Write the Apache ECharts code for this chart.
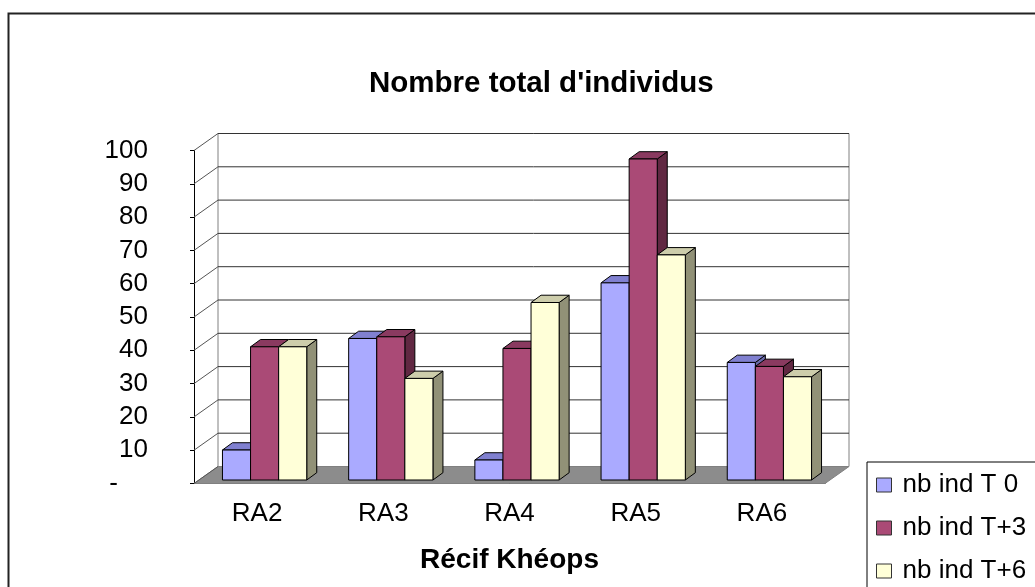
<!DOCTYPE html>
<html lang="fr">
  <head>
    <meta charset="UTF-8" />
    <script src="https://cdn.jsdelivr.net/npm/echarts@6/dist/echarts.min.js"></script>
    <title>Nombre total d'individus</title>
    <style>
      html, body { margin: 0; background: #fff; overflow: hidden; }
      /* a bit larger than the window: the legend box runs off the edges as in the original */
      #container { width: 1070px; height: 630px; }
    </style>
  </head>
  <body>
    <div id="container"></div>
    <script>
      // values
      const categories = ["RA2", "RA3", "RA4", "RA5", "RA6"];
      const seriesNames = ["nb ind T 0", "nb ind T+3", "nb ind T+6"];
      const t0 = [9, 42.5, 6, 59.2, 35.3];
      const t3 = [40, 43, 39.5, 96.4, 34.1];
      const t6 = [40, 30.5, 53.3, 67.6, 31];
      const yTicks = [0, 10, 20, 30, 40, 50, 60, 70, 80, 90, 100];

      // front / top / side face colours per series
      const faces = [
        { front: "#aaaaff", top: "#8080d0", side: "#6a6aa8" },
        { front: "#aa4a76", top: "#8a3a60", side: "#612842" },
        { front: "#ffffd8", top: "#cdcdab", side: "#919177" }
      ];

      const FONT = "Liberation Sans, Arial, sans-serif";
      const WALL = [24, -17];   // depth of the walls
      const OFF = [7.5, -3.5];  // bars sit a bit behind the front edge
      const BD = [10, -7.3];    // depth of each bar

      const W = 1070, H = 630;
      const chart = echarts.init(document.getElementById("container"), null, { renderer: "canvas" });

      function renderWalls(params, api) {
        const cs = params.coordSys;
        const gx = cs.x, gw = cs.width;
        const y0 = api.coord([0, 0])[1];
        const y100 = api.coord([0, 100])[1];
        const kids = [];
        // back wall
        kids.push({
          type: "polygon",
          shape: { points: [[gx + WALL[0], y100 + WALL[1]], [gx + gw + WALL[0], y100 + WALL[1]],
                            [gx + gw + WALL[0], y0 + WALL[1]], [gx + WALL[0], y0 + WALL[1]]] },
          style: { fill: "#fff", stroke: "#808080", lineWidth: 1 }
        });
        // floor
        kids.push({
          type: "polygon",
          shape: { points: [[gx, y0], [gx + gw, y0], [gx + gw + WALL[0], y0 + WALL[1]], [gx + WALL[0], y0 + WALL[1]]] },
          style: { fill: "#8c8c8c", stroke: "#808080", lineWidth: 1 }
        });
        yTicks.forEach(function (v) {
          const y = api.coord([0, v])[1];
          if (v > 0) {
            kids.push({
              type: "line",
              shape: { x1: gx + WALL[0], y1: y + WALL[1], x2: gx + gw + WALL[0], y2: y + WALL[1] },
              style: { stroke: "#333", lineWidth: 1 }
            });
          }
          kids.push({
            type: "line",
            shape: { x1: gx, y1: y, x2: gx + WALL[0], y2: y + WALL[1] },
            style: { stroke: "#555", lineWidth: 1 }
          });
        });
        return { type: "group", children: kids };
      }

      function barRenderer(k) {
        return function (params, api) {
          const i = api.value(0), v = api.value(1);
          const base = api.coord([i, 0]);
          const top = api.coord([i, v]);
          const bw = api.size([1, 0])[0] * 0.2226;
          const x0 = base[0] - 1.5 * bw + k * bw + OFF[0];
          const x1 = x0 + bw;
          const yb = base[1] + OFF[1];
          const yt = top[1] + OFF[1];
          const f = faces[k];
          const edge = { stroke: "#000", lineWidth: 1, lineJoin: "round" };
          return {
            type: "group",
            children: [
              {
                type: "polygon",
                shape: { points: [[x1, yb], [x1 + BD[0], yb + BD[1]], [x1 + BD[0], yt + BD[1]], [x1, yt]] },
                style: Object.assign({ fill: f.side }, edge)
              },
              {
                type: "polygon",
                shape: { points: [[x0, yt], [x1, yt], [x1 + BD[0], yt + BD[1]], [x0 + BD[0], yt + BD[1]]] },
                style: Object.assign({ fill: f.top }, edge)
              },
              {
                type: "rect",
                shape: { x: x0, y: yt, width: bw, height: yb - yt },
                style: Object.assign({ fill: f.front }, edge)
              }
            ]
          };
        };
      }

      const values = [t0, t3, t6];
      const barSeries = values.map(function (arr, k) {
        return {
          name: seriesNames[k],
          type: "custom",
          renderItem: barRenderer(k),
          itemStyle: { color: faces[k].front },
          encode: { x: 0, y: 1 },
          data: arr.map(function (v, i) { return [i, v]; }),
          z: 3 + k,
          silent: true
        };
      });

      const option = {
        animation: false,
        backgroundColor: "#fff",
        textStyle: { fontFamily: FONT },
        title: {
          text: "Nombre total d'individus",
          left: 369,
          top: 69,
          padding: 0,
          textStyle: { fontFamily: FONT, fontSize: 29.5, fontWeight: "bold", color: "#000" }
        },
        legend: {
          orient: "vertical",
          left: 867,
          top: 462,
          padding: [10, 40, 10, 9],
          itemWidth: 15,
          itemHeight: 14,
          itemGap: 17,
          backgroundColor: "#fff",
          borderColor: "#000",
          borderWidth: 1,
          borderRadius: 0,
          textStyle: { fontFamily: FONT, fontSize: 26, color: "#000", padding: [0, 0, 0, 6] },
          data: seriesNames.map(function (n, k) {
            return { name: n, icon: "rect", itemStyle: { color: faces[k].front, borderColor: "#333", borderWidth: 1 } };
          })
        },
        graphic: [
          {
            type: "rect",
            left: 6, top: 11, z: -10,
            shape: { x: 0, y: 0, width: 1200, height: 800 },
            style: { fill: "none", stroke: "#222", lineWidth: 2 }
          }
        ],
        grid: { left: 194, right: W - 825, top: 150.5, bottom: H - 483.5 },
        xAxis: {
          type: "category",
          data: categories,
          boundaryGap: true,
          axisLine: { lineStyle: { color: "#000", width: 1 } },
          axisTick: { length: 5, lineStyle: { color: "#000" } },
          axisLabel: { fontFamily: FONT, fontSize: 26, color: "#000", margin: 17 },
          name: "Récif Khéops",
          nameLocation: "middle",
          nameGap: 63,
          nameTextStyle: { fontFamily: FONT, fontSize: 28, fontWeight: "bold", color: "#000" },
          splitLine: { show: false }
        },
        yAxis: {
          type: "value",
          min: 0,
          max: 100,
          interval: 10,
          axisLine: { show: true, lineStyle: { color: "#000", width: 1 } },
          axisTick: { show: true, length: 4, lineStyle: { color: "#000" } },
          axisLabel: {
            fontFamily: FONT, fontSize: 26, color: "#000", margin: 46,
            formatter: function (v) { return v === 0 ? "{d|-}" : String(v); },
            rich: { d: { fontFamily: FONT, fontSize: 26, color: "#000", padding: [0, 30, 0, 0] } }
          },
          splitLine: { show: false }
        },
        series: [
          {
            name: "walls",
            type: "custom",
            renderItem: renderWalls,
            data: [[0, 0]],
            encode: { x: 0, y: 1 },
            z: 1,
            silent: true
          }
        ].concat(barSeries)
      };

      chart.setOption(option);
      window.addEventListener("resize", chart.resize);
    </script>
  </body>
</html>
